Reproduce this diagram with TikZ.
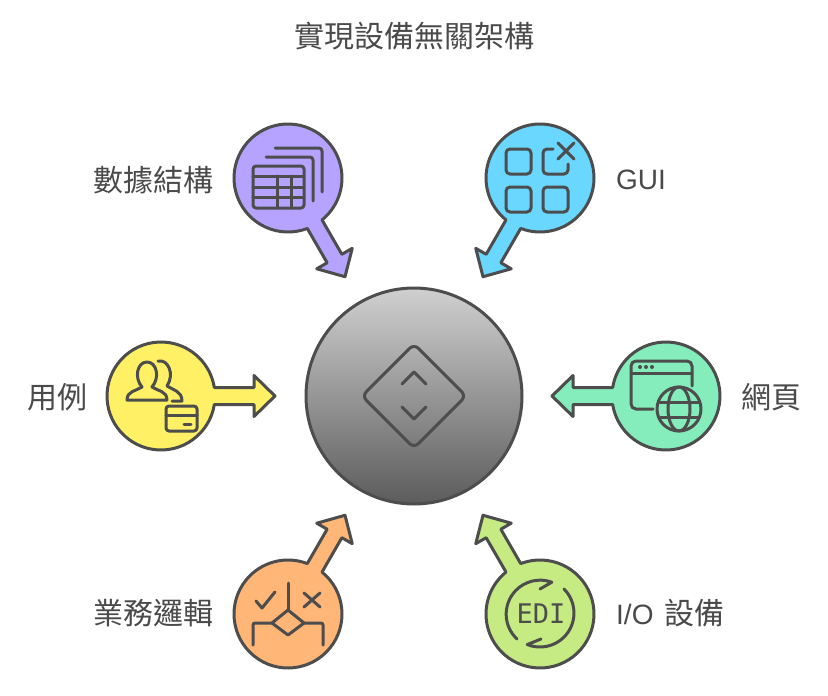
\documentclass[tikz,border=0pt]{standalone}
\usepackage{fontspec}
\usepackage{xcolor}
\setmainfont{Liberation Sans}
\newfontfamily\cjk{Noto Sans CJK TC}
\newfontfamily\edifont{DejaVu Sans Mono}
\usetikzlibrary{shapes,arrows,positioning,calc}
\definecolor{inkgray}{HTML}{4D4D4D}
\definecolor{textgray}{HTML}{4A4A4A}
\definecolor{tablepurple}{HTML}{B5A3FF}
\definecolor{guiblue}{HTML}{69D7FF}
\definecolor{caseyellow}{HTML}{FFF066}
\definecolor{webgreen}{HTML}{85EDBB}
\definecolor{logicorange}{HTML}{FFB677}
\definecolor{edilime}{HTML}{C5EB82}
\definecolor{hubtop}{HTML}{D0D0D0}
\definecolor{hubbottom}{HTML}{5C5C5C}
\tikzset{
  petal/.style={draw=inkgray,line width=3pt,line join=round},
  icon/.style={draw=inkgray,line width=3pt,line cap=round,line join=round},
  label/.style={text=textgray,inner sep=0pt,font=\fontsize{28}{34}\selectfont},
  cjklabel/.style={text=textgray,inner sep=0pt,font=\cjk\fontsize{30}{36}\selectfont},
  hubcircle/.style={circle,draw=inkgray,line width=3pt,minimum size=216pt,inner sep=0pt,
    top color=hubtop,bottom color=hubbottom}
}
\begin{document}
\begin{tikzpicture}[x=1pt,y=1pt,yscale=-1]
  \useasboundingbox (0,0) rectangle (828,696);

  \node[hubcircle] (hub) at (414,396) {};

  \foreach \name/\px/\py/\ang/\col in {
    tableleaf/288/178/60/tablepurple,
    guileaf/540/178/120/guiblue,
    caseleaf/161/396/0/caseyellow,
    webleaf/666/396/180/webgreen,
    logicleaf/288/614/-60/logicorange,
    edileaf/540/614/-120/edilime}{
    \coordinate (\name) at (\px,\py);
    \begin{scope}[shift={(\name)},rotate=\ang]
      \draw[petal,fill=\col] (9.06:54) arc[start angle=9.06,end angle=350.94,radius=54]
        -- (93,-8.5) -- (93,-20.5) -- (114,0) -- (93,20.5) -- (93,8.5) -- cycle;
    \end{scope}
  }

  \node[cjklabel] (title) at (414.5,36) {實現設備無關架構};
  \node[cjklabel,anchor=east] (tabletext) at (214,180) {數據結構};
  \node[label,anchor=west] (guitext) at (616,180) {GUI};
  \node[cjklabel,anchor=east] (casetext) at (88,397) {用例};
  \node[cjklabel,anchor=west] (webtext) at (741,397) {網頁};
  \node[cjklabel,anchor=east] (logictext) at (214,613) {業務邏輯};
  \node[label,anchor=west] (editext) at (616,613) {I/O\hspace{11pt}{\cjk\fontsize{30}{36}\selectfont 設備}};

  % hub
  \draw[icon,rounded corners=6pt] (414,344) -- (466,396) -- (414,448) -- (362,396) -- cycle;
  \draw[icon] (402,384) -- (414,372) -- (426,384);
  \draw[icon] (402,407) -- (414,419) -- (426,407);

  % table
  \draw[icon,rounded corners=3pt] (253,166) rectangle (304,208);
  \draw[icon] (253,176) -- (304,176);
  \draw[icon] (253,187) -- (304,187);
  \draw[icon] (253,197) -- (304,197);
  \draw[icon] (277,176) -- (277,208);
  \draw[icon] (291,176) -- (291,208);
  \draw[icon,rounded corners=3pt] (266,157) -- (313,157) -- (313,201);
  \draw[icon,rounded corners=3pt] (275,148) -- (322,148) -- (322,192);

  % gui
  \draw[icon,rounded corners=4pt] (506,149) rectangle (531,174);
  \draw[icon,rounded corners=4pt] (506,187) rectangle (531,212);
  \draw[icon,rounded corners=4pt] (543,187) rectangle (568,212);
  \draw[icon,rounded corners=4pt] (553,149) -- (543,149) -- (543,174) -- (568,174) -- (568,164);
  \draw[icon] (558,143) -- (574,159);
  \draw[icon] (574,143) -- (558,159);

  % users and card
  \draw[icon] (127,400) .. controls (127,391) and (136,391) .. (142,387)
    .. controls (134,378) and (137,362) .. (147,362)
    .. controls (157,362) and (160,378) .. (152,387)
    .. controls (158,391) and (167,391) .. (167,400) -- cycle;
  \draw[icon] (158,361) .. controls (168,359) and (175,374) .. (167,386)
    .. controls (173,390) and (182,391) .. (182,401) -- (172,401);
  \draw[icon,rounded corners=3pt] (166,406) rectangle (197,431);
  \draw[icon] (166,415) -- (197,415);
  \draw[icon] (184,424) -- (191,424);

  % browser and globe
  \draw[icon,rounded corners=5pt] (692,386) -- (692,361) -- (631,361) -- (631,409) -- (653,409);
  \draw[icon] (631,373) -- (692,373);
  \foreach \dotx in {640,646,652}
    \fill[inkgray] (\dotx,367) circle (2);
  \draw[icon] (679,409) circle (22);
  \draw[icon] (679,409) ellipse (11 and 22);
  \draw[icon] (659,402) -- (699,402);
  \draw[icon] (659,417) -- (699,417);

  % decision tree
  \draw[icon] (288,583) -- (288,610);
  \draw[icon] (288,610) -- (304,623) -- (288,635) -- (272,623) -- cycle;
  \draw[icon,rounded corners=2pt] (272,623) -- (253,623) -- (253,645);
  \draw[icon,rounded corners=2pt] (304,623) -- (323,623) -- (323,645);
  \draw[icon] (256,601) -- (262,608) -- (275,592);
  \draw[icon] (304,593) -- (320,607);
  \draw[icon] (320,593) -- (304,607);

  % edi
  \draw[icon] (517,639) arc[start angle=133,end angle=290,radius=34] -- (540,589);
  \draw[icon] (564,589) arc[start angle=-45,end angle=112,radius=34] -- (541,639);
  \node[text=inkgray,inner sep=0pt,font=\edifont\fontsize{27}{32}\selectfont] (editag) at (541,614) {EDI};
\end{tikzpicture}
\end{document}
